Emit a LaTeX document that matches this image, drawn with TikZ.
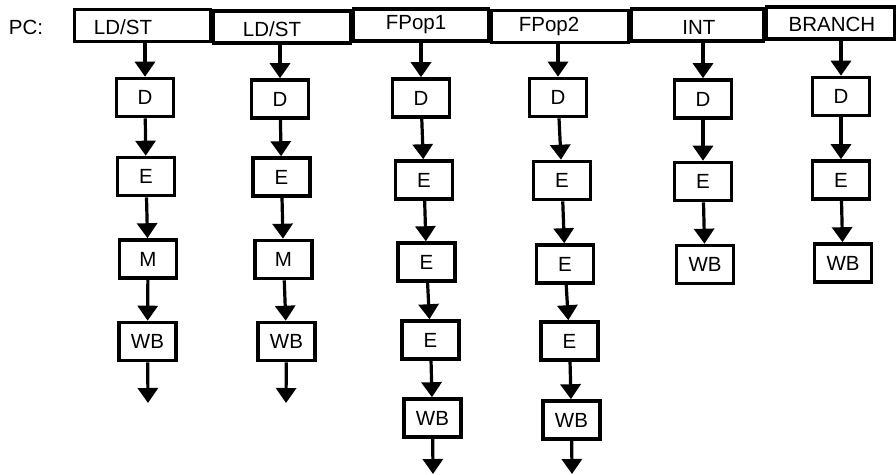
\documentclass[tikz,border=0pt]{standalone}
\usepackage{fontspec}
\setmainfont{Liberation Sans}
\usetikzlibrary{arrows.meta}
\begin{document}
\begin{tikzpicture}[x=1pt,y=-1pt,
  stagebox/.style={draw, line width=3.6pt, minimum width=57, minimum height=38, inner sep=0pt, font=\fontsize{20.5}{23}\selectfont},
  pcbox/.style={draw, line width=3.3pt, minimum height=32, inner sep=0pt},
  lbl/.style={inner sep=0pt, font=\fontsize{20.5}{23}\selectfont},
  arr/.style={line width=3.2pt, -{Triangle[width=20pt,length=15pt]}}]
\useasboundingbox (0,0) rectangle (896,474);
% top row
\node[pcbox, minimum width=136] (t1) at (142.5,25.5) {};
\node[pcbox, minimum width=137] (t2) at (282,27) {};
\node[pcbox, minimum width=135] (t3) at (421,25) {};
\node[pcbox, minimum width=137] (t4) at (560,26.5) {};
\node[pcbox, minimum width=132] (t5) at (697.5,25) {};
\node[pcbox, minimum width=128] (t6) at (830.5,23) {};
\node[lbl] (pc) at (26,27) {PC:};
\node[lbl] (l1) at (123,27) {LD/ST};
\node[lbl] (l2) at (272,29) {LD/ST};
\node[lbl] (l3) at (416,25) {FPop1};
\node[lbl] (l4) at (549,26) {FPop2};
\node[lbl] (l5) at (699,27) {INT};
\node[lbl] (l6) at (832,24) {BRANCH};
% column 1
\node[stagebox] (d1) at (145,97.5) {D};
\node[stagebox] (e1) at (146,176.5) {E};
\node[stagebox] (m1) at (148,259) {M};
\node[stagebox] (w1) at (147.5,341.5) {WB};
\coordinate (z1) at (148,403);
% column 2
\node[stagebox] (d2) at (280,99) {D};
\node[stagebox] (e2) at (281.5,177) {E};
\node[stagebox] (m2) at (283.5,259.5) {M};
\node[stagebox] (w2) at (286.5,341.5) {WB};
\coordinate (z2) at (286,403);
% column 3
\node[stagebox] (d3) at (421,98) {D};
\node[stagebox] (e3a) at (424,180) {E};
\node[stagebox] (e3b) at (426.5,262) {E};
\node[stagebox] (e3c) at (430.5,340) {E};
\node[stagebox] (w3) at (432.5,418) {WB};
\coordinate (z3) at (433,474);
% column 4
\node[stagebox] (d4) at (558,97.5) {D};
\node[stagebox] (e4a) at (562,180.5) {E};
\node[stagebox] (e4b) at (565,264) {E};
\node[stagebox] (e4c) at (569.5,341) {E};
\node[stagebox] (w4) at (571.5,420) {WB};
\coordinate (z4) at (572,474);
% column 5
\node[stagebox] (d5) at (703,99) {D};
\node[stagebox] (e5) at (703,181.5) {E};
\node[stagebox] (w5) at (705,264.5) {WB};
% column 6
\node[stagebox] (d6) at (841,96.5) {D};
\node[stagebox] (e6) at (841,180) {E};
\node[stagebox] (w6) at (843,263) {WB};
% arrows
\draw[arr] (t1.south -| d1.north) -- (d1.north);
\draw[arr] (t2.south -| d2.north) -- (d2.north);
\draw[arr] (t3.south -| d3.north) -- (d3.north);
\draw[arr] (t4.south -| d4.north) -- (d4.north);
\draw[arr] (t5.south -| d5.north) -- (d5.north);
\draw[arr] (t6.south -| d6.north) -- (d6.north);
\draw[arr] (d1) -- (e1);
\draw[arr] (e1) -- (m1);
\draw[arr] (m1) -- (w1);
\draw[arr] (w1) -- (z1);
\draw[arr] (d2) -- (e2);
\draw[arr] (e2) -- (m2);
\draw[arr] (m2) -- (w2);
\draw[arr] (w2) -- (z2);
\draw[arr] (d3) -- (e3a);
\draw[arr] (e3a) -- (e3b);
\draw[arr] (e3b) -- (e3c);
\draw[arr] (e3c) -- (w3);
\draw[arr] (w3) -- (z3);
\draw[arr] (d4) -- (e4a);
\draw[arr] (e4a) -- (e4b);
\draw[arr] (e4b) -- (e4c);
\draw[arr] (e4c) -- (w4);
\draw[arr] (w4) -- (z4);
\draw[arr] (d5) -- (e5);
\draw[arr] (e5) -- (w5);
\draw[arr] (d6) -- (e6);
\draw[arr] (e6) -- (w6);
\end{tikzpicture}
\end{document}
